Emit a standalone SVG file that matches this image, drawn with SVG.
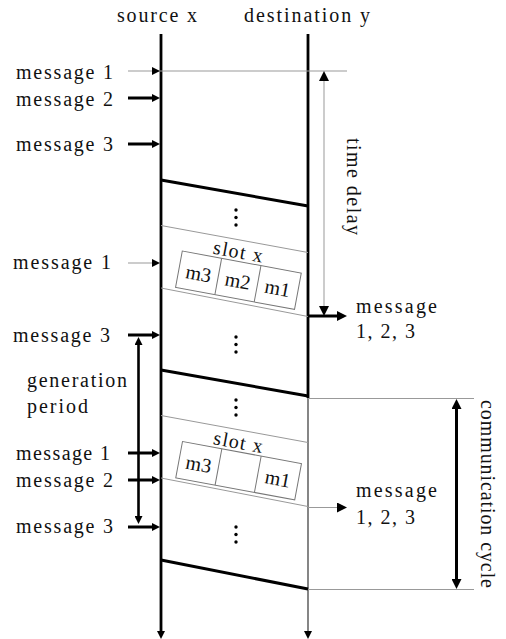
<svg xmlns="http://www.w3.org/2000/svg" width="506" height="639" viewBox="0 0 506 639">
<style>
text{font-family:"Liberation Serif","Times New Roman",serif;font-size:20px;fill:#111}
.slot text{font-size:20px}
.thick{stroke:#000;stroke-width:3;fill:none}
.thin{stroke:#999;stroke-width:1;fill:none}
.axis{stroke:#000;stroke-width:2.8;fill:none}
.box{stroke:#777;stroke-width:1;fill:none}
.dot{fill:#000}
</style>
<defs>
<marker id="ah" viewBox="0 0 8 8" refX="0" refY="4" markerWidth="8" markerHeight="8" markerUnits="userSpaceOnUse" orient="auto-start-reverse">
<path d="M0,0 L8,4 L0,8 z" fill="#000"/>
</marker>
<marker id="ahb" viewBox="0 0 10 10" refX="0" refY="5" markerWidth="10" markerHeight="10" markerUnits="userSpaceOnUse" orient="auto-start-reverse">
<path d="M0,0 L10,5 L0,10 z" fill="#000"/>
</marker>
<g id="cycle">
<line x1="161" y1="180" x2="308" y2="206" class="thick"/>
<circle cx="236" cy="210" r="1.7" class="dot"/>
<circle cx="236" cy="217.5" r="1.7" class="dot"/>
<circle cx="236" cy="225" r="1.7" class="dot"/>
<line x1="161" y1="225.5" x2="308" y2="252.5" class="thin"/>
<line x1="161" y1="288" x2="308" y2="316.5" class="thin"/>
<circle cx="236" cy="337" r="1.7" class="dot"/>
<circle cx="236" cy="344.5" r="1.7" class="dot"/>
<circle cx="236" cy="352" r="1.7" class="dot"/>
</g>
</defs>

<g id="headers">
<text x="117" y="22" textLength="80" lengthAdjust="spacing">source x</text>
<text x="244" y="22" textLength="126" lengthAdjust="spacing">destination y</text>
</g>

<g id="axes">
<line x1="161" y1="34" x2="161" y2="631" class="axis" marker-end="url(#ah)"/>
<line x1="308" y1="34" x2="308" y2="398" class="axis"/>
<line x1="308" y1="398" x2="308" y2="631" stroke="#444" stroke-width="1.3" marker-end="url(#ah)"/>
</g>

<g id="cycles">
<use href="#cycle"/>
<use href="#cycle" y="190"/>
<line x1="161" y1="560" x2="308" y2="589" class="thick"/>
</g>

<g id="slot1" class="slot" transform="translate(182.3,251) rotate(10.5)">
<rect x="0" y="0" width="121" height="37" class="box"/>
<line x1="40" y1="0" x2="40" y2="37" class="box"/>
<line x1="80" y1="0" x2="80" y2="37" class="box"/>
<text x="55" y="-3" text-anchor="middle" textLength="50" lengthAdjust="spacing">slot x</text>
<text x="20" y="26" text-anchor="middle">m3</text>
<text x="60" y="26" text-anchor="middle">m2</text>
<text x="100.5" y="26" text-anchor="middle">m1</text>
</g>

<g id="slot2" class="slot" transform="translate(182.5,441.5) rotate(10.5)">
<rect x="0" y="0" width="121" height="37" class="box"/>
<line x1="40" y1="0" x2="40" y2="37" class="box"/>
<line x1="80" y1="0" x2="80" y2="37" class="box"/>
<text x="55" y="-3" text-anchor="middle" textLength="50" lengthAdjust="spacing">slot x</text>
<text x="20" y="26" text-anchor="middle">m3</text>
<text x="100.5" y="26" text-anchor="middle">m1</text>
</g>

<g id="connectors">
<line x1="128" y1="71" x2="347" y2="71" class="thin"/>
<path d="M152,67 L160,71 L152,75 z" fill="#000"/>
<line x1="128" y1="98" x2="152" y2="98" class="thick" marker-end="url(#ah)"/>
<line x1="128" y1="144" x2="152" y2="144" class="thick" marker-end="url(#ah)"/>
<line x1="128" y1="263" x2="152" y2="263" class="thin" marker-end="url(#ah)"/>
<line x1="128" y1="335" x2="152" y2="335" class="thick" marker-end="url(#ah)"/>
<line x1="128" y1="453" x2="152" y2="453" class="thick" marker-end="url(#ah)"/>
<line x1="128" y1="480" x2="152" y2="480" class="thick" marker-end="url(#ah)"/>
<line x1="128" y1="527" x2="152" y2="527" class="thick" marker-end="url(#ah)"/>
<line x1="138.5" y1="345" x2="138.5" y2="516" stroke="#000" stroke-width="2.6" marker-start="url(#ah)" marker-end="url(#ah)"/>
<line x1="324" y1="81" x2="324" y2="306" stroke="#aaa" stroke-width="1.2" marker-start="url(#ahb)" marker-end="url(#ahb)"/>
<line x1="308" y1="316" x2="337" y2="316" class="thick" marker-end="url(#ahb)"/>
<line x1="308" y1="507.5" x2="337" y2="507.5" class="thin" marker-end="url(#ahb)"/>
<line x1="308" y1="398.5" x2="474" y2="398.5" class="thin"/>
<line x1="308" y1="589.5" x2="474" y2="589.5" class="thin"/>
<line x1="456.5" y1="409" x2="456.5" y2="579" stroke="#000" stroke-width="3" marker-start="url(#ahb)" marker-end="url(#ahb)"/>
</g>

<g id="labels-left">
<text x="16" y="79" textLength="97" lengthAdjust="spacing">message 1</text>
<text x="16" y="106" textLength="97" lengthAdjust="spacing">message 2</text>
<text x="16" y="151" textLength="97" lengthAdjust="spacing">message 3</text>
<text x="13" y="269" textLength="98" lengthAdjust="spacing">message 1</text>
<text x="13" y="342" textLength="97" lengthAdjust="spacing">message 3</text>
<text x="27" y="387" textLength="100" lengthAdjust="spacing">generation</text>
<text x="27" y="413" textLength="61" lengthAdjust="spacing">period</text>
<text x="16" y="460" textLength="94" lengthAdjust="spacing">message 1</text>
<text x="16" y="487" textLength="97" lengthAdjust="spacing">message 2</text>
<text x="16" y="533" textLength="97" lengthAdjust="spacing">message 3</text>
</g>

<g id="labels-right">
<text x="356" y="313" textLength="81" lengthAdjust="spacing">message</text>
<text x="356" y="338" textLength="59" lengthAdjust="spacing">1, 2, 3</text>
<text x="356" y="497" textLength="81" lengthAdjust="spacing">message</text>
<text x="356" y="524" textLength="59" lengthAdjust="spacing">1, 2, 3</text>
<text transform="translate(347,138) rotate(90)" textLength="97" lengthAdjust="spacing">time delay</text>
<text transform="translate(481,400) rotate(90)" textLength="188" lengthAdjust="spacing">communication cycle</text>
</g>
</svg>
